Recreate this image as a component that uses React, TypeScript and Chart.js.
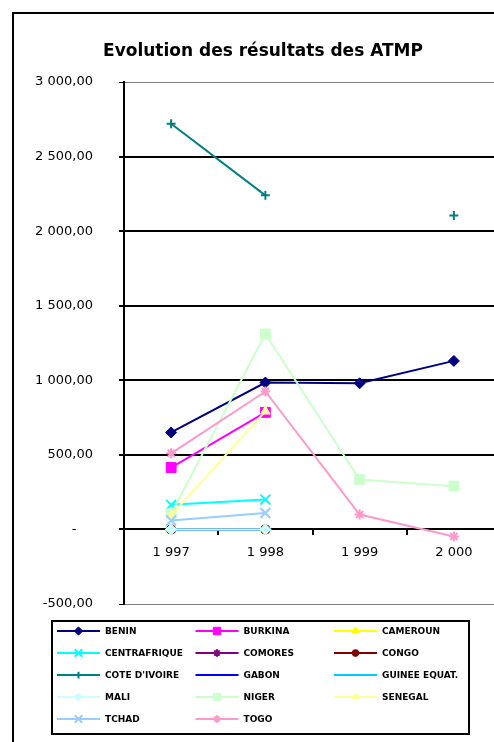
import React, { useEffect, useRef } from 'react';
import { Chart, registerables } from 'chart.js';
import { drawPoint } from 'chart.js/helpers';

Chart.register(...registerables);

// ---------- data ----------
const TITLE = 'Evolution des résultats des ATMP';
const YEARS = ['1 997', '1 998', '1 999', '2 000'];
const Y_MIN = -500;
const Y_MAX = 3000;
const Y_STEP = 500;

const SERIES_NAMES = [
  'BENIN', 'BURKINA', 'CAMEROUN',
  'CENTRAFRIQUE', 'COMORES', 'CONGO',
  "COTE D'IVOIRE", 'GABON', 'GUINEE EQUAT.',
  'MALI', 'NIGER', 'SENEGAL',
  'TCHAD', 'TOGO',
];

const BENIN = [650, 985, 980, 1130];
const BURKINA = [415, 785, null, null];
const CAMEROUN = [0, 0, null, null];
const CENTRAFRIQUE = [165, 200, null, null];
const COMORES = [0, 0, null, null];
const CONGO = [0, 0, null, null];
const COTE_DIVOIRE = [2720, 2240, null, 2105];
const GABON = [0, 0, null, null];
const GUINEE_EQUAT = [0, 0, null, null];
const MALI = [0, 0, null, null];
const NIGER = [105, 1310, 335, 290];
const SENEGAL = [95, 792, null, null];
const TCHAD = [60, 110, null, null];
const TOGO = [510, 925, 100, -47];

const SERIES_VALUES = [
  BENIN, BURKINA, CAMEROUN, CENTRAFRIQUE, COMORES, CONGO, COTE_DIVOIRE,
  GABON, GUINEE_EQUAT, MALI, NIGER, SENEGAL, TCHAD, TOGO,
];

// ---------- styles ----------
const COLORS = [
  '#000080', '#FF00FF', '#FFFF00', '#00FFFF', '#800080', '#800000', '#008080',
  '#0000FF', '#00CCFF', '#CCFFFF', '#CCFFCC', '#FFFF99', '#99CCFF', '#FF99CC',
];
const POINT_STYLES = [
  'rectRot', 'rect', 'triangle', 'crossRot', 'star', 'circle', 'cross',
  'line', 'line', 'rectRot', 'rect', 'triangle', 'crossRot', 'star',
];
const POINT_RADII = [5.5, 7, 5.5, 7, 5, 4.5, 4.5, 4, 6, 5.5, 7, 5.5, 7, 5];
const FONT = '"DejaVu Sans", sans-serif';

function fmtY(v: number): string {
  if (v === 0) return '-    ';
  const neg = v < 0;
  const s = Math.round(Math.abs(v)).toString().replace(/\B(?=(\d{3})+(?!\d))/g, ' ');
  return (neg ? '-' : '') + s + ',00';
}

const overlayPlugin = {
  id: 'excelOverlay',
  afterDraw(chart: any) {
    const ctx = chart.ctx as CanvasRenderingContext2D;
    ctx.save();
    // title
    ctx.font = `bold 17px ${FONT}`;
    ctx.fillStyle = '#000';
    ctx.textAlign = 'center';
    ctx.textBaseline = 'alphabetic';
    ctx.fillText(TITLE, 249, 41.5);

    // legend box
    ctx.lineWidth = 2;
    ctx.strokeStyle = '#000';
    ctx.strokeRect(38, 607, 417, 113);

    ctx.font = `bold 9px ${FONT}`;
    ctx.textAlign = 'left';
    ctx.textBaseline = 'middle';
    chart.data.datasets.forEach((ds: any, i: number) => {
      const col = i % 3;
      const row = Math.floor(i / 3);
      const x0 = 43 + col * 138.5;
      const y = 617 + row * 22;
      ctx.strokeStyle = ds.borderColor;
      ctx.fillStyle = ds.borderColor;
      ctx.lineWidth = 2;
      ctx.beginPath();
      ctx.moveTo(x0, y);
      ctx.lineTo(x0 + 43, y);
      ctx.stroke();
      ctx.lineWidth = ds.pointBorderWidth;
      drawPoint(ctx, {
        pointStyle: ds.pointStyle,
        radius: ds.pointRadius * 0.75,
        rotation: 0,
        borderWidth: ds.pointBorderWidth,
      } as any, x0 + 21.5, y);
      ctx.fillStyle = '#000';
      ctx.fillText(ds.label, x0 + 48, y + 0.5);
    });
    ctx.restore();
  },
};

function ChartCanvas() {
  const ref = useRef<HTMLCanvasElement | null>(null);
  useEffect(() => {
    if (!ref.current) return;
    const datasets = SERIES_NAMES.map((name, i) => {
      const style = POINT_STYLES[i];
      const stroked = style === 'crossRot' || style === 'cross' || style === 'star' || style === 'line';
      return {
        label: name,
        data: SERIES_VALUES[i],
        borderColor: COLORS[i],
        backgroundColor: COLORS[i],
        borderWidth: 2,
        pointStyle: style,
        pointRadius: POINT_RADII[i],
        pointBorderWidth: stroked ? 2 : 1,
        pointBackgroundColor: COLORS[i],
        pointBorderColor: COLORS[i],
        tension: 0,
        spanGaps: false,
        order: -i,
      };
    });
    const chart = new Chart(ref.current, {
      type: 'line',
      data: { labels: YEARS, datasets },
      options: {
        animation: false,
        responsive: false,
        devicePixelRatio: 1,
        layout: { padding: { top: 68, left: 0, right: 23, bottom: 150 } },
        plugins: {
          legend: { display: false },
          title: { display: false },
          tooltip: { enabled: false },
        },
        scales: {
          x: {
            type: 'category',
            offset: true,
            position: { y: 0 } as any,
            grid: {
              offset: true,
              drawOnChartArea: false,
              drawTicks: true,
              tickLength: 5,
              color: '#000',
              lineWidth: 2,
            },
            border: { display: true, color: '#000', width: 2 },
            ticks: {
              color: '#000',
              font: { family: FONT, size: 13 },
              padding: 10,
              maxRotation: 0,
            },
          },
          y: {
            min: Y_MIN,
            max: Y_MAX,
            afterFit: (scale: any) => { scale.width = 110; },
            grid: {
              color: (c: any) => (c.tick && (c.tick.value === Y_MAX || c.tick.value === Y_MIN) ? '#808080' : '#000'),
              lineWidth: (c: any) => (c.tick && (c.tick.value === Y_MAX || c.tick.value === Y_MIN) ? 1 : 2),
              tickColor: '#000',
              tickLength: 5,
              drawTicks: true,
            },
            border: { display: true, color: '#000', width: 2 },
            ticks: {
              stepSize: Y_STEP,
              color: '#000',
              font: { family: FONT, size: 13 },
              padding: 26,
              callback: (v: any) => fmtY(Number(v)),
            },
          },
        },
      },
      plugins: [overlayPlugin],
    });
    return () => chart.destroy();
  }, []);
  return (
    <canvas
      ref={ref}
      width={510}
      height={740}
      style={{ display: 'block', width: 510, height: 740 }}
    />
  );
}

export default function App() {
  return (
    <div style={{ position: 'fixed', left: 0, top: 0, width: 494, height: 742, overflow: 'hidden', background: '#fff' }}>
      <div
        style={{
          position: 'absolute',
          left: 12,
          top: 12,
          width: 530,
          height: 760,
          border: '2px solid #000',
          boxSizing: 'border-box',
          background: '#fff',
        }}
      >
        <ChartCanvas />
      </div>
    </div>
  );
}
